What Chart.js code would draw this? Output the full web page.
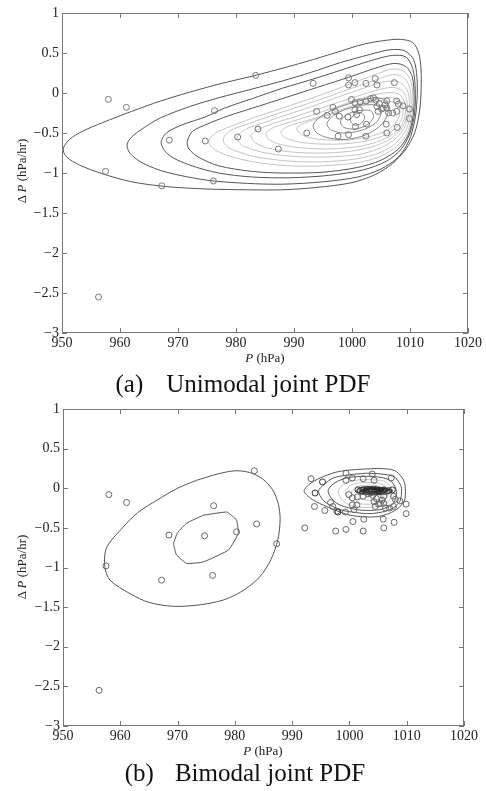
<!DOCTYPE html>
<html>
<head>
<meta charset="utf-8">
<title>Joint PDF of P and dP</title>
<script src="https://cdn.jsdelivr.net/npm/chart.js"></script>
<style>
  body { margin: 0; background: #fff; width: 486px; height: 791px; position: relative; overflow: hidden; }
  .plot { position: absolute; left: 0; }
  .lbl { position: absolute; font-family: "Liberation Serif", serif; color: #222; white-space: pre; }
  .xt { font-size: 13px; transform: translate(-50%, -50%); }
  .yt { font-size: 13px; transform: translate(-50%, -50%) rotate(-90deg); }
  .cap { font-size: 25px; color: #111; transform: translate(-50%, -50%); }
  .gap { display: inline-block; }
</style>
</head>
<body>
<div class="plot" style="top:0"><canvas id="uniChart" width="486" height="352"></canvas></div>
<div class="plot" style="top:396px"><canvas id="biChart" width="486" height="349"></canvas></div>

<span class="lbl xt" style="left:265px;top:358px"><i>P</i> (hPa)</span>
<span class="lbl yt" style="left:22px;top:171px">&Delta; <i>P</i> (hPa/hr)</span>
<span class="lbl cap" style="left:243px;top:384px">(a)<span class="gap" style="width:23px"></span>Unimodal joint PDF</span>

<span class="lbl xt" style="left:263px;top:751px"><i>P</i> (hPa)</span>
<span class="lbl yt" style="left:22px;top:567px">&Delta; <i>P</i> (hPa/hr)</span>
<span class="lbl cap" style="left:245px;top:773px">(b)<span class="gap" style="width:21px"></span>Bimodal joint PDF</span>

<script>
// observed pressure (hPa) and pressure tendency (hPa/hr)
const obsP = [958.0, 961.1, 983.4, 976.3, 968.5, 974.7, 980.3, 983.8, 987.3, 957.5,
              967.2, 976.1, 956.3, 993.3, 992.2, 993.9, 995.7, 996.7, 997.1, 997.8,
              999.3, 997.6, 999.4, 1002.4, 1000.6, 1002.5, 1000.8, 1000.5, 1001.3, 999.9,
              1000.5, 1001.4, 1002.4, 1003.2, 1003.7, 1004.1, 1004.7, 1004.3, 1004.5, 1005.1,
              1005.7, 1006.0, 1006.0, 1006.3, 1007.7, 1008.0, 1007.7, 1007.0, 1008.8, 1009.9,
              1009.9, 1005.9, 1006.0, 1007.8, 1005.4, 999.4, 1000.5, 999.4, 1002.4, 1004.0,
              1004.3, 1007.3];
const obsDP = [-0.08, -0.18, 0.22, -0.22, -0.59, -0.60, -0.55, -0.45, -0.70, -0.98,
               -1.16, -1.10, -2.55, 0.12, -0.50, -0.23, -0.28, -0.18, -0.23, -0.29,
               -0.30, -0.54, -0.52, -0.54, -0.42, -0.39, -0.27, -0.21, -0.21, -0.08,
               -0.12, -0.11, -0.10, -0.07, -0.06, -0.09, -0.13, -0.17, -0.23, -0.20,
               -0.15, -0.10, -0.19, -0.25, -0.10, -0.14, -0.23, -0.25, -0.16, -0.20,
               -0.32, -0.39, -0.50, -0.43, -0.19, 0.19, 0.13, 0.10, 0.12, 0.18,
               0.10, 0.13];

// extra overlapping points near the second mode in panel (b)
const peakP = [995.3, 994.0, 998.0, 1001.5, 1002.3, 1003.0, 1003.8, 1004.5, 1005.3, 1006.0, 1006.8, 1007.5];
const peakDP = [0.08, -0.06, -0.30, -0.02, -0.03, -0.02, -0.03, -0.02, -0.03, -0.02, -0.03, -0.02];

const xTicks = [950, 960, 970, 980, 990, 1000, 1010, 1020];
const yTicks = [1, 0.5, 0, -0.5, -1, -1.5, -2, -2.5, -3];

// unimodal contour lines, [P, dP]
const uni1 = [[950.2,-0.70],[951.3,-0.58],[953.5,-0.48],[957,-0.37],[962,-0.23],[967,-0.10],[972,0.01],[977,0.11],[982.8,0.21],[987,0.29],[992,0.39],[997,0.50],[1002,0.61],[1006,0.66],[1008.5,0.67],[1010.5,0.63],[1011.5,0.5],[1011.9,0.3],[1011.9,0.0],[1011.6,-0.25],[1010.8,-0.5],[1009.3,-0.7],[1007,-0.88],[1004,-1.02],[1000,-1.12],[994,-1.18],[988,-1.21],[982,-1.21],[975,-1.2],[968,-1.17],[962,-1.11],[957,-1.01],[953,-0.9],[950.8,-0.8],[950.2,-0.70]];
const uni2 = [[961.2,-0.65],[962,-0.55],[964,-0.44],[967,-0.31],[972,-0.17],[977,-0.06],[982.8,0.05],[988,0.15],[993,0.26],[998,0.38],[1003,0.48],[1006.5,0.54],[1009,0.53],[1010.6,0.42],[1011.2,0.2],[1011.2,-0.1],[1010.8,-0.35],[1009.8,-0.6],[1008,-0.8],[1005,-0.95],[1001,-1.05],[995,-1.11],[988,-1.14],[982,-1.13],[975,-1.09],[968,-0.99],[964,-0.88],[961.8,-0.76],[961.2,-0.65]];
const uni3 = [[967.1,-0.63],[968,-0.50],[971,-0.39],[974.7,-0.30],[978,-0.19],[982.8,-0.07],[988,0.06],[994,0.19],[1000,0.33],[1004,0.42],[1007,0.47],[1009.3,0.45],[1010.5,0.3],[1010.9,0.05],[1010.8,-0.25],[1010,-0.5],[1008.5,-0.7],[1006,-0.85],[1002,-0.96],[996,-1.03],[989,-1.06],[982.8,-1.05],[977,-1.0],[972,-0.9],[968.5,-0.78],[967.1,-0.63]];
const uni4 = [[971.6,-0.61],[972.5,-0.48],[975,-0.39],[978.5,-0.29],[982.8,-0.19],[988,-0.07],[994,0.07],[1000,0.21],[1004,0.31],[1007.3,0.37],[1009.3,0.33],[1010.4,0.2],[1010.7,-0.05],[1010.5,-0.3],[1009.7,-0.52],[1008,-0.7],[1005,-0.84],[1001,-0.93],[995,-0.99],[988,-1.0],[982.8,-0.98],[977,-0.91],[973.5,-0.8],[971.9,-0.7],[971.6,-0.61]];
const uni5 = [[975.3,-0.60],[976.5,-0.50],[979,-0.42],[983,-0.31],[988,-0.19],[994,-0.04],[1000,0.12],[1004,0.23],[1007,0.30],[1009,0.27],[1010.2,0.14],[1010.5,-0.08],[1010.3,-0.3],[1009.5,-0.5],[1007.8,-0.66],[1005,-0.79],[1001,-0.87],[995,-0.91],[989,-0.91],[983,-0.86],[978.5,-0.78],[976,-0.69],[975.3,-0.60]];
const uni6 = [[977.8,-0.57],[979,-0.47],[981.5,-0.40],[985,-0.31],[990,-0.19],[995,-0.07],[1000,0.06],[1004,0.16],[1007,0.23],[1008.8,0.2],[1009.9,0.08],[1010.2,-0.1],[1010,-0.3],[1009.2,-0.48],[1007.5,-0.63],[1005,-0.74],[1001,-0.82],[995,-0.86],[989,-0.85],[983.5,-0.8],[979.8,-0.72],[978.2,-0.65],[977.8,-0.57]];
const uni7 = [[980.2,-0.55],[981.5,-0.46],[984,-0.39],[988,-0.29],[993,-0.17],[998,-0.04],[1002,0.06],[1005.5,0.14],[1008,0.14],[1009.5,0.04],[1009.9,-0.12],[1009.7,-0.3],[1008.8,-0.46],[1007,-0.6],[1004.5,-0.7],[1001,-0.77],[995.5,-0.8],[989.5,-0.79],[984.5,-0.74],[981.5,-0.67],[980.4,-0.61],[980.2,-0.55]];
const uni8 = [[982.6,-0.53],[984,-0.45],[986.5,-0.38],[990,-0.3],[995,-0.18],[1000,-0.06],[1004,0.03],[1007,0.07],[1008.8,0.02],[1009.5,-0.12],[1009.4,-0.3],[1008.5,-0.45],[1006.7,-0.57],[1004,-0.66],[1000.5,-0.72],[995.5,-0.75],[990,-0.74],[985.5,-0.69],[983.3,-0.62],[982.6,-0.53]];
const uni9 = [[985.2,-0.5],[986.5,-0.43],[989,-0.37],[993,-0.28],[997.5,-0.17],[1002,-0.06],[1005.5,0.0],[1008,-0.01],[1009.1,-0.12],[1009.1,-0.3],[1008.2,-0.44],[1006.3,-0.55],[1003.5,-0.63],[1000,-0.68],[995.5,-0.7],[990.5,-0.68],[987,-0.63],[985.5,-0.57],[985.2,-0.5]];
const uni10 = [[987.8,-0.47],[989.2,-0.41],[992,-0.35],[996,-0.26],[1000,-0.16],[1004,-0.08],[1007,-0.06],[1008.6,-0.13],[1008.7,-0.29],[1007.8,-0.42],[1005.8,-0.52],[1003,-0.59],[999.5,-0.63],[995.5,-0.64],[991.5,-0.62],[988.8,-0.57],[987.9,-0.52],[987.8,-0.47]];
const uni11 = [[990.5,-0.44],[992,-0.37],[995,-0.3],[999,-0.2],[1003,-0.12],[1006,-0.1],[1008,-0.15],[1008.2,-0.28],[1007.2,-0.4],[1005,-0.5],[1002,-0.56],[998.5,-0.59],[994.5,-0.58],[991.5,-0.53],[990.5,-0.44]];
const uniIn1 = [[993.3,-0.40],[994.5,-0.30],[997,-0.20],[1000.5,-0.11],[1004,-0.06],[1006,-0.1],[1006.2,-0.25],[1005,-0.4],[1002.5,-0.52],[999,-0.58],[995.8,-0.56],[993.8,-0.49],[993.3,-0.40]];
const uniIn2 = [[995.7,-0.38],[996.8,-0.28],[999,-0.2],[1002,-0.15],[1004.5,-0.16],[1005,-0.26],[1004,-0.38],[1001.5,-0.47],[998.5,-0.5],[996.3,-0.46],[995.7,-0.38]];
const uniIn3 = [[998,-0.36],[999,-0.27],[1001,-0.22],[1003.2,-0.22],[1003.7,-0.3],[1002.6,-0.4],[1000.5,-0.45],[998.6,-0.43],[998,-0.36]];
const uniIn4 = [[999.7,-0.34],[1000.4,-0.27],[1001.6,-0.25],[1002.2,-0.3],[1001.6,-0.38],[1000.4,-0.4],[999.7,-0.34]];

// bimodal contour lines, [P, dP]
const biA1 = [[957.3,-0.99],[957.6,-0.75],[960.5,-0.49],[963,-0.31],[966.4,-0.15],[970,0.0],[973.3,0.10],[977,0.18],[980,0.22],[982.5,0.20],[984.8,0.12],[986.6,-0.02],[987.6,-0.2],[987.9,-0.4],[987.5,-0.65],[986.3,-0.9],[984.2,-1.13],[981,-1.31],[978,-1.41],[974,-1.47],[969.3,-1.49],[965,-1.44],[961.7,-1.33],[958.2,-1.16],[957.3,-0.99]];
const biA2 = [[969.3,-0.70],[970,-0.56],[971.6,-0.44],[974.5,-0.34],[978.6,-0.30],[980.3,-0.40],[980.6,-0.57],[978.9,-0.78],[974.5,-0.93],[971.6,-0.95],[969.8,-0.84],[969.3,-0.70]];
const biB1 = [[992.1,-0.04],[993.0,0.05],[994.9,0.13],[997.5,0.2],[1000.1,0.23],[1004.8,0.25],[1007,0.24],[1008.2,0.21],[1009.3,0.12],[1009.7,0.04],[1009.7,-0.13],[1009.1,-0.21],[1008.2,-0.27],[1006.5,-0.33],[1004.8,-0.36],[1002.5,-0.36],[1000.1,-0.34],[998,-0.29],[996.0,-0.23],[993.7,-0.15],[992.1,-0.04]];
const biB2 = [[994.6,-0.04],[995.6,0.05],[997.2,0.13],[1000,0.17],[1003.0,0.19],[1005.5,0.18],[1007.7,0.15],[1008.7,0.07],[1009.1,0.0],[1008.9,-0.15],[1008.2,-0.22],[1007.1,-0.27],[1005,-0.31],[1003.0,-0.32],[1000.5,-0.3],[998.4,-0.27],[995.7,-0.17],[994.6,-0.04]];
const biB3 = [[996.3,-0.02],[997.5,0.07],[999.5,0.13],[1002,0.15],[1004.0,0.15],[1006,0.13],[1007.4,0.08],[1008.2,-0.04],[1007.7,-0.19],[1006.6,-0.24],[1005.3,-0.27],[1003,-0.28],[1001.3,-0.27],[999.5,-0.24],[997.8,-0.19],[996.6,-0.1],[996.3,-0.02]];
const biB4 = [[998,-0.04],[999,0.05],[1001,0.1],[1003.5,0.11],[1006,0.09],[1007.3,0.0],[1007.2,-0.12],[1006,-0.21],[1003.5,-0.24],[1001,-0.23],[999,-0.17],[998,-0.04]];
const biB5 = [[999.3,-0.04],[1000.3,0.04],[1002,0.07],[1004.5,0.07],[1006.3,0.03],[1006.8,-0.06],[1006,-0.16],[1003.8,-0.2],[1001.5,-0.19],[999.9,-0.13],[999.3,-0.04]];
const biB6 = [[1000.4,-0.04],[1001.3,0.02],[1003,0.04],[1005,0.03],[1006.2,-0.03],[1005.8,-0.11],[1004,-0.15],[1002,-0.14],[1000.8,-0.1],[1000.4,-0.04]];
const biB7 = [[1001.3,-0.03],[1002,0.01],[1004,0.02],[1006,0.0],[1007.5,-0.03],[1006.5,-0.07],[1004,-0.08],[1002,-0.07],[1001.3,-0.03]];
const biB8 = [[1002,-0.03],[1003,0.0],[1005,0.005],[1006.8,-0.02],[1005.5,-0.06],[1003.5,-0.06],[1002,-0.03]];
const biB9 = [[1002.6,-0.03],[1004,-0.01],[1006,-0.02],[1004,-0.05],[1002.6,-0.03]];

// start a closed loop part way along its upper edge so the join is not at a tip
function loopFrom(pts, start) {
  const open = pts.slice(0, -1);
  const r = open.slice(start).concat(open.slice(0, start));
  return r.concat([r[0]]);
}

function contour(pts, color, width, tension) {
  const loop = loopFrom(pts, Math.floor(pts.length / 4));
  return {
    data: loop.map(([x, y]) => ({ x, y })),
    showLine: true,
    tension: tension === undefined ? 0.3 : tension,
    pointRadius: 0,
    borderColor: color,
    borderWidth: width || 1,
    fill: false
  };
}

function points(px, py, color) {
  return {
    data: px.map((p, i) => ({ x: p, y: py[i] })),
    showLine: false,
    pointRadius: 3,
    pointBorderColor: color,
    pointBackgroundColor: 'rgba(0,0,0,0)',
    pointBorderWidth: 1
  };
}

// box round the plot with inward ticks on all four sides
const framePlugin = {
  id: 'frame',
  afterDatasetsDraw(chart) {
    const { ctx, chartArea: a, scales: { x, y } } = chart;
    ctx.save();
    ctx.strokeStyle = '#777';
    ctx.lineWidth = 1;
    ctx.strokeRect(a.left + 0.5, a.top + 0.5, a.right - a.left - 1, a.bottom - a.top - 1);
    ctx.beginPath();
    xTicks.forEach(v => {
      const p = Math.round(x.getPixelForValue(v)) + 0.5;
      ctx.moveTo(p, a.bottom); ctx.lineTo(p, a.bottom - 5);
      ctx.moveTo(p, a.top); ctx.lineTo(p, a.top + 5);
    });
    yTicks.forEach(v => {
      const p = Math.round(y.getPixelForValue(v)) + 0.5;
      ctx.moveTo(a.left, p); ctx.lineTo(a.left + 5, p);
      ctx.moveTo(a.right, p); ctx.lineTo(a.right - 5, p);
    });
    ctx.stroke();
    ctx.restore();
  }
};

function makeOptions(leftW, rightPad) {
  const tickFont = { family: 'Liberation Serif', size: 14 };
  return {
    responsive: false,
    animation: false,
    events: [],
    layout: { padding: { top: 13, right: rightPad, bottom: 0, left: 0 } },
    plugins: { legend: { display: false }, tooltip: { enabled: false } },
    scales: {
      x: {
        type: 'linear', min: 950, max: 1020,
        afterFit: s => { s.height = 19; },
        afterBuildTicks: s => { s.ticks = xTicks.map(v => ({ value: v })); },
        grid: { display: false, drawTicks: false },
        border: { display: false },
        ticks: { font: tickFont, color: '#222', padding: 2, maxRotation: 0, autoSkip: false,
                 callback: v => String(v) }
      },
      y: {
        type: 'linear', min: -3, max: 1,
        afterFit: s => { s.width = leftW; },
        afterBuildTicks: s => { s.ticks = yTicks.map(v => ({ value: v })); },
        grid: { display: false, drawTicks: false },
        border: { display: false },
        ticks: {
          font: tickFont, color: '#222', padding: 3, autoSkip: false,
          callback: v => v < 0 ? '\u2212' + (-v) : String(v)
        }
      }
    }
  };
}

const dark = '#555', light = '#c4c4c4', mid = '#8a8a8a';

new Chart(document.getElementById('uniChart'), {
  type: 'scatter',
  data: {
    datasets: [
      points(obsP, obsDP, '#777'),
      contour(uniIn4, mid), contour(uniIn3, mid), contour(uniIn2, mid), contour(uniIn1, mid),
      contour(uni11, light), contour(uni10, light), contour(uni9, light), contour(uni8, light),
      contour(uni7, light), contour(uni6, light), contour(uni5, light),
      contour(uni4, dark), contour(uni3, dark), contour(uni2, dark), contour(uni1, dark)
    ]
  },
  options: makeOptions(62, 18),
  plugins: [framePlugin]
});

new Chart(document.getElementById('biChart'), {
  type: 'scatter',
  data: {
    datasets: [
      points(peakP, peakDP, '#333'),
      points(obsP, obsDP, '#666'),
      contour(biB9, '#222', 2.5), contour(biB8, '#333', 2), contour(biB7, '#444', 1.5),
      contour(biB6, light), contour(biB5, light), contour(biB4, light),
      contour(biB3, dark), contour(biB2, dark), contour(biB1, dark),
      contour(biA2, dark, 1, 0.1), contour(biA1, dark)
    ]
  },
  options: makeOptions(63, 22),
  plugins: [framePlugin]
});
</script>
</body>
</html>
